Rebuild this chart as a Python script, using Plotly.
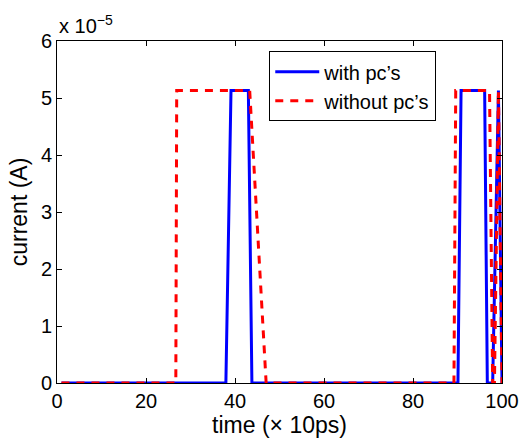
import plotly.graph_objects as go

# Time samples (units of 10 ps) and currents (A)
t_with_pc = [1, 37.95, 39.1, 43.0, 43.8, 90.1, 90.8, 96.1, 96.7, 97.9, 99.2, 100]
i_with_pc = [0, 0, 5.13e-5, 5.13e-5, 0, 0, 5.13e-5, 5.13e-5, 0, 0, 5.13e-5, 0]

t_without_pc = [1, 26.7, 26.9, 43.3, 47.0, 89.2, 89.6, 97.2, 97.9, 98.3, 99.2, 100]
i_without_pc = [0, 0, 5.13e-5, 5.13e-5, 0, 0, 5.13e-5, 5.13e-5, 0, 0, 5.13e-5, 0]

x_ticks = [0, 20, 40, 60, 80, 100]
y_ticks = [0, 1, 2, 3, 4, 5, 6]
scale = 1e-5

font_family = "Liberation Sans, Arial, Helvetica, sans-serif"

fig = go.Figure()
fig.add_trace(go.Scatter(
    x=t_with_pc, y=[v / scale for v in i_with_pc],
    mode="lines", name="with pc’s",
    line=dict(color="#0000ff", width=3),
))
fig.add_trace(go.Scatter(
    x=t_without_pc, y=[v / scale for v in i_without_pc],
    mode="lines", name="without pc’s",
    line=dict(color="#ff0000", width=3, dash="8px,7px"),
))

axis_common = dict(
    showgrid=False, zeroline=False, automargin=False,
    showline=True, linecolor="black", linewidth=1,
    mirror="ticks", ticks="inside", ticklen=5, tickcolor="black",
    tickfont=dict(family=font_family, size=20, color="black"),
)

fig.update_layout(
    width=520, height=441,
    margin=dict(l=57, r=18, t=41, b=58),
    paper_bgcolor="white", plot_bgcolor="white",
    font=dict(family=font_family, color="black"),
    showlegend=True,
    legend=dict(
        x=0.477, y=0.97, xanchor="left", yanchor="top",
        bgcolor="white", bordercolor="black", borderwidth=1,
        font=dict(family=font_family, size=20, color="black"),
        tracegroupgap=0, itemwidth=44,
    ),
    xaxis=dict(
        range=[0, 100], tickvals=x_ticks, ticktext=[str(v) for v in x_ticks],
        title=dict(text="time (× 10ps)", font=dict(size=23), standoff=4),
        **axis_common,
    ),
    yaxis=dict(
        range=[0, 6], tickvals=y_ticks, ticktext=[str(v) for v in y_ticks],
        title=dict(text="current (A)", font=dict(size=23), standoff=6),
        **axis_common,
    ),
    annotations=[dict(
        text="x 10<sup>−5</sup>", xref="paper", yref="paper",
        x=0.0, y=1.0, xanchor="left", yanchor="bottom", yshift=2,
        showarrow=False, font=dict(family=font_family, size=20, color="black"),
    )],
)

fig.write_html("out.html")
